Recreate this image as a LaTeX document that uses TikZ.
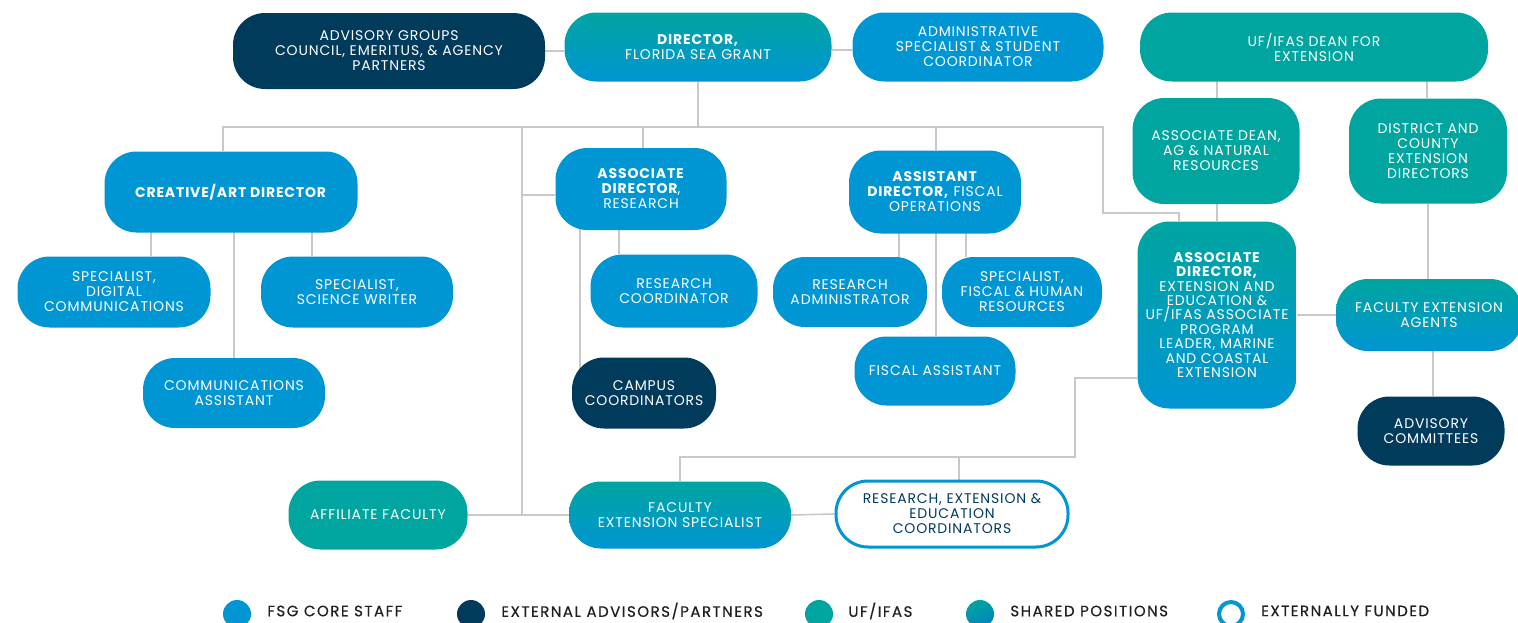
\documentclass[tikz,border=0pt]{standalone}
\usepackage{fontspec}
\setmainfont{Poppins}[LetterSpace=6]
\newfontfamily\keyfam{Poppins}[LetterSpace=10, FakeBold=0.6]
\usetikzlibrary{positioning,backgrounds}
\definecolor{fsgblue}{RGB}{0,149,211}
\definecolor{fsgnavy}{RGB}{0,59,92}
\definecolor{ifasteal}{RGB}{0,165,160}
\definecolor{linkgray}{RGB}{200,200,200}
\definecolor{keyink}{RGB}{35,31,32}
\newcommand\boxfont{\fontsize{14}{15}\selectfont}
\newcommand\keyfont{\keyfam\fontsize{15}{17}\selectfont}
\tikzset{
  box/.style={rounded corners=32pt, inner sep=0pt, align=center, text=white, font=\boxfont},
  dims/.style 2 args={minimum width=#1pt, minimum height=#2pt},
  core/.style={box, fill=fsgblue},
  partner/.style={box, fill=fsgnavy},
  ifas/.style={box, fill=ifasteal},
  shared/.style={box, top color=ifasteal, bottom color=fsgblue},
  funded/.style={box, fill=white, draw=fsgblue, line width=3pt, text=fsgnavy},
  link/.style={draw=linkgray, line width=1.6pt},
  keydot/.style={circle, minimum size=28pt, inner sep=0pt},
  keytext/.style={inner sep=0pt, anchor=west, text=keyink, font=\keyfont},
}
\begin{document}
\begin{tikzpicture}[x=1pt, y=-1pt]
  \useasboundingbox (0,0) rectangle (1518,622);

  \node[partner, dims={312}{76}] (adv) at (389,51) {ADVISORY GROUPS\\COUNCIL, EMERITUS, \& AGENCY\\PARTNERS};
  \node[shared, dims={267}{69}] (dir) at (698,47) {\textbf{DIRECTOR,}\\FLORIDA SEA GRANT};
  \node[core, dims={251}{69}] (admin) at (978,47) {ADMINISTRATIVE\\SPECIALIST \& STUDENT\\COORDINATOR};
  \node[ifas, dims={348}{69}] (dean) at (1314,47) {UF/IFAS DEAN FOR\\EXTENSION};

  \node[core, dims={253}{81}] (creative) at (231,192) {\textbf{CREATIVE/ART DIRECTOR}};
  \node[core, dims={171}{82}] (ardir) at (641,189) {\textbf{ASSOCIATE}\\\textbf{DIRECTOR},\\RESEARCH};
  \node[core, dims={172}{83}] (afdir) at (935,192) {\textbf{ASSISTANT}\\\textbf{DIRECTOR,} FISCAL\\OPERATIONS};
  \node[ifas, dims={167}{106}] (assocdean) at (1216,151) {ASSOCIATE DEAN,\\AG \& NATURAL\\RESOURCES};
  \node[ifas, dims={158}{105}] (district) at (1428,151) {DISTRICT AND\\COUNTY\\EXTENSION\\DIRECTORS};

  \node[core, dims={193}{71}] (specdig) at (114,292) {SPECIALIST,\\DIGITAL\\COMMUNICATIONS};
  \node[core, dims={192}{71}] (specsci) at (357,292) {SPECIALIST,\\SCIENCE WRITER};
  \node[core, dims={182}{70}] (commasst) at (234,393) {COMMUNICATIONS\\ASSISTANT};
  \node[core, dims={167}{73}] (rescoord) at (674,291) {RESEARCH\\COORDINATOR};
  \node[partner, dims={144}{71}] (campus) at (644,393) {CAMPUS\\COORDINATORS};
  \node[core, dims={154}{70}] (resadm) at (850,292) {RESEARCH\\ADMINISTRATOR};
  \node[core, dims={160}{70}] (specfis) at (1022,292) {SPECIALIST,\\FISCAL \& HUMAN\\RESOURCES};
  \node[core, dims={161}{69}] (fisasst) at (935,371) {FISCAL ASSISTANT};

  \node[shared, dims={159}{187}, font=\fontsize{14}{14.4}\selectfont] (assocext) at (1217,315)
    {\textbf{ASSOCIATE}\\\textbf{DIRECTOR,}\\EXTENSION AND\\EDUCATION \&\\UF/IFAS ASSOCIATE\\PROGRAM\\LEADER, MARINE\\AND COASTAL\\EXTENSION};
  \node[shared, dims={186}{72}] (agents) at (1429,315) {FACULTY EXTENSION\\AGENTS};
  \node[partner, dims={147}{69}] (committees) at (1431,431) {ADVISORY\\COMMITTEES};

  \node[ifas, dims={179}{69}] (affil) at (378,515) {AFFILIATE FACULTY};
  \node[shared, dims={222}{67}] (facspec) at (680,515) {FACULTY\\EXTENSION SPECIALIST};
  \node[funded, dims={232}{66}] (reecoord) at (952,514) {RESEARCH, EXTENSION \&\\EDUCATION\\COORDINATORS};

  \coordinate (busL) at (223,127);
  \coordinate (busR) at (1103,127);
  \coordinate (spine) at (522,127);
  \coordinate (jog) at (1179,213);
  \coordinate (hub) at (1075,457);

  \begin{pgfonlayer}{background}
    \draw[link] (adv.east) -- (adv.east -| dir.west);
    \draw[link] ([yshift=-3pt]dir.east) -- ([yshift=-3pt]admin.west);
    \draw[link] (dir.south) -- (dir.south |- busL);
    \draw[link] (busL |- creative.north) -- (busL) -- (busR) |- (jog) -- (jog |- assocext.north);
    \draw[link] ([xshift=2pt]ardir.north) -- ([xshift=2pt]ardir.north |- busL);
    \draw[link] ([xshift=1pt]afdir.north) -- ([xshift=1pt]afdir.north |- busL);
    \draw[link] (spine) |- (facspec.west);
    \draw[link] (affil.east) -- (facspec.west);
    \draw[link] (spine |- ardir.center) ++(0,6) -- ([yshift=-6pt]ardir.west);
    \draw[link] ([xshift=37pt]specdig.north) |- (creative.center);
    \draw[link] (commasst.north) -- (commasst.north |- creative.center);
    \draw[link] ([xshift=-45pt]specsci.north) |- (creative.center);
    \draw[link] ([xshift=-64pt]campus.center) |- (ardir.center);
    \draw[link] ([xshift=-55pt]rescoord.north) |- (ardir.center);
    \draw[link] ([xshift=49pt]resadm.north) |- (afdir.center);
    \draw[link] ([xshift=1pt]fisasst.north) -- ([xshift=1pt]fisasst.north |- afdir.center);
    \draw[link] ([xshift=-56pt]specfis.north) |- (afdir.center);
    \draw[link] ([xshift=1pt]assocdean.north) -- ([xshift=1pt]assocdean.north |- dean.center);
    \draw[link] ([xshift=-1pt]district.north) -- ([xshift=-1pt]district.north |- dean.center);
    \draw[link] ([xshift=1pt]assocdean.south) -- ([xshift=1pt]assocdean.south |- assocext.north);
    \draw[link] (district.south) -- (district.south |- agents.north);
    \draw[link] ([xshift=4pt]agents.south) -- ([xshift=4pt]agents.south |- committees.north);
    \draw[link] (assocext.east) -- (agents.west);
    \draw[link] (facspec.east) -- (reecoord.west);
    \draw[link] (facspec.north) |- (hub) |- ([yshift=-63pt]assocext.west);
    \draw[link] ([xshift=7pt]reecoord.north) -- ([xshift=7pt]reecoord.north |- hub);
  \end{pgfonlayer}

  \node[keydot, fill=fsgblue] (kcore) at (237,614) {};
  \node[keytext, right=16pt of kcore, yshift=3pt] {FSG CORE STAFF};
  \node[keydot, fill=fsgnavy] (kpartner) at (471,614) {};
  \node[keytext, right=16pt of kpartner, yshift=3pt] {EXTERNAL ADVISORS/PARTNERS};
  \node[keydot, fill=ifasteal] (kifas) at (819,614) {};
  \node[keytext, right=15pt of kifas, yshift=3pt] {UF/IFAS};
  \node[keydot, top color=ifasteal, bottom color=fsgblue!80!fsgnavy, shading angle=20] (kshared) at (980,614) {};
  \node[keytext, right=16pt of kshared, yshift=3pt] {SHARED POSITIONS};
  \node[keydot, draw=fsgblue, line width=4pt, minimum size=24pt] (kfunded) at (1231,614) {};
  \node[keytext, right=16pt of kfunded, yshift=3pt] {EXTERNALLY FUNDED};
\end{tikzpicture}
\end{document}
